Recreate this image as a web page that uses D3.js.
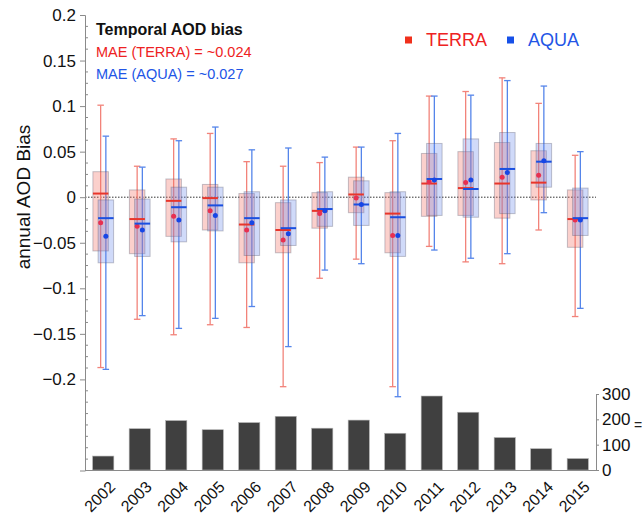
<!DOCTYPE html>
<html><head><meta charset="utf-8">
<script src="https://cdn.jsdelivr.net/npm/d3@7/dist/d3.min.js"></script>
<style>body{margin:0;background:#fff}svg{display:block}text{font-family:"Liberation Sans",Arial,sans-serif}</style>
</head><body><svg id="c" width="644" height="514"></svg>
<script>
const years = ["2002","2003","2004","2005","2006","2007","2008","2009","2010","2011","2012","2013","2014","2015"];
const counts = [55,163,195,159,187,212,165,197,145,292,228,128,84,45];
// TERRA box statistics
const terraMin  = [-0.187,-0.134,-0.151,-0.140,-0.143,-0.208,-0.089,-0.068,-0.208,-0.054,-0.071,-0.073,-0.036,-0.131];
const terraQ1   = [-0.059,-0.062,-0.043,-0.036,-0.072,-0.061,-0.034,-0.017,-0.061,-0.021,-0.020,-0.023,-0.003,-0.055];
const terraMed  = [ 0.004,-0.024,-0.004,-0.001,-0.030,-0.036,-0.015, 0.003,-0.018, 0.015, 0.010, 0.015, 0.016,-0.024];
const terraQ3   = [ 0.028, 0.008, 0.020, 0.014, 0.004,-0.006, 0.005, 0.022, 0.005, 0.048, 0.050, 0.060, 0.051, 0.008];
const terraMax  = [ 0.101, 0.034, 0.064, 0.070, 0.039, 0.034, 0.038, 0.055, 0.062, 0.111, 0.116, 0.131, 0.103, 0.046];
const terraMean = [-0.028,-0.032,-0.021,-0.015,-0.036,-0.047,-0.018,-0.001,-0.042, 0.017, 0.016, 0.022, 0.024,-0.025];
// AQUA box statistics
const aquaMin  = [-0.189,-0.130,-0.144,-0.133,-0.120,-0.164,-0.080,-0.073,-0.219,-0.058,-0.067,-0.062,-0.017,-0.122];
const aquaQ1   = [-0.072,-0.065,-0.049,-0.037,-0.064,-0.053,-0.032,-0.031,-0.065,-0.020,-0.022,-0.018, 0.011,-0.042];
const aquaMed  = [-0.023,-0.029,-0.011,-0.009,-0.023,-0.034,-0.013,-0.008,-0.022, 0.020, 0.009, 0.031, 0.039,-0.023];
const aquaQ3   = [-0.003,-0.002, 0.011, 0.011, 0.006,-0.003, 0.006, 0.018, 0.006, 0.059, 0.064, 0.071, 0.059, 0.010];
const aquaMax  = [ 0.067, 0.033, 0.062, 0.077, 0.052, 0.054, 0.044, 0.055, 0.070, 0.111, 0.112, 0.128, 0.122, 0.050];
const aquaMean = [-0.043,-0.036,-0.025,-0.020,-0.028,-0.040,-0.015,-0.008,-0.042, 0.019, 0.019, 0.027, 0.040,-0.025];
const biasTicks = [0.2,0.15,0.1,0.05,0,-0.05,-0.1,-0.15,-0.2];
const countTicks = [0,100,200,300];

const svg = d3.select("#c");
const x = d3.scaleBand().domain(years).range([85,596]).paddingInner(0.42).paddingOuter(0.21);
const y = d3.scaleLinear().domain([-0.3,0.2]).range([470.5,15]);
const yc = d3.scaleLinear().domain([0,300]).range([470,394]);
const axisCol = "#8a8a8a";

// histogram bars
svg.append("g").selectAll("rect").data(years).join("rect")
  .attr("x", d=>x(d)).attr("width", x.bandwidth())
  .attr("y", (d,i)=>yc(counts[i])).attr("height",(d,i)=>yc(0)-yc(counts[i]))
  .attr("fill","#404040").attr("stroke","#b0b0b0").attr("stroke-width",0.6);

// zero line
svg.append("line").attr("x1",85).attr("x2",596).attr("y1",y(0)).attr("y2",y(0))
  .attr("stroke","#333").attr("stroke-width",1).attr("stroke-dasharray","1.5,1.5");

// left axis
const gl = svg.append("g").attr("transform","translate(85,0)");
gl.call(d3.axisLeft(y).tickValues(biasTicks).tickSize(5).tickPadding(4).tickFormat(d=>d===0?"0":d3.format("")(+d.toFixed(2))));
gl.select(".domain").attr("stroke",axisCol);
gl.selectAll(".tick line").attr("stroke",axisCol);
gl.selectAll(".tick text").attr("font-size",17).attr("fill","#111").attr("font-family","Liberation Sans, Arial, sans-serif");
const minor = d3.range(0,41).map(i=>+(0.2-i*0.0125).toFixed(4)).filter(v=>Math.abs(Math.round(v*20)-v*20)>1e-6);
gl.selectAll(".mt").data(minor).join("line").attr("x1",0).attr("x2",3).attr("y1",d=>y(d)).attr("y2",d=>y(d)).attr("stroke",axisCol);
gl.selectAll(".mt2").data([-0.25,-0.3]).join("line").attr("x1",0).attr("x2",3).attr("y1",d=>y(d)).attr("y2",d=>y(d)).attr("stroke",axisCol);

// right count axis
const gr = svg.append("g").attr("transform","translate(596,0)");
gr.call(d3.axisRight(yc).tickValues(countTicks).tickSize(3).tickPadding(3));
gr.select(".domain").attr("stroke",axisCol);
gr.selectAll(".tick line").attr("stroke",axisCol);
gr.selectAll(".tick text").attr("font-size",17).attr("fill","#111").attr("font-family","Liberation Sans, Arial, sans-serif");
svg.append("text").attr("x",634).attr("y",430).attr("font-size",14).attr("fill","#222").text("=");

// bottom axis line
svg.append("line").attr("x1",85).attr("x2",596).attr("y1",470.5).attr("y2",470.5).attr("stroke",axisCol).attr("stroke-width",1.2);

// year labels
svg.append("g").selectAll("text").data(years).join("text")
  .attr("transform",d=>`translate(${x(d)+x.bandwidth()/2+5},480) rotate(-45)`)
  .attr("text-anchor","end").attr("dy","0.7em").attr("font-size",16).attr("fill","#111").text(d=>d);

// box plots
const series = [
  {name:"TERRA", off:-2.6, mn:terraMin, q1:terraQ1, md:terraMed, q3:terraQ3, mx:terraMax, me:terraMean,
   fill:"rgba(244,110,95,0.32)", wh:"#f2837a", med:"#e8352b", dot:"#e83050"},
  {name:"AQUA", off:2.6, mn:aquaMin, q1:aquaQ1, md:aquaMed, q3:aquaQ3, mx:aquaMax, me:aquaMean,
   fill:"rgba(110,140,235,0.32)", wh:"#5585ea", med:"#1a4fe0", dot:"#1646e6"}
];
const bw = 15.5, cap = 6.5;
const cx = d => x(d)+x.bandwidth()/2;
series.forEach(s=>{
  const g = svg.append("g");
  g.selectAll(".w").data(years).join("line").attr("x1",(d)=>cx(d)+s.off).attr("x2",d=>cx(d)+s.off)
    .attr("y1",(d,i)=>y(s.mx[i])).attr("y2",(d,i)=>y(s.mn[i])).attr("stroke",s.wh).attr("stroke-width",1.3);
  g.selectAll(".ct").data(years).join("line").attr("x1",d=>cx(d)+s.off-cap/2).attr("x2",d=>cx(d)+s.off+cap/2)
    .attr("y1",(d,i)=>y(s.mx[i])).attr("y2",(d,i)=>y(s.mx[i])).attr("stroke",s.wh).attr("stroke-width",1.3);
  g.selectAll(".cb").data(years).join("line").attr("x1",d=>cx(d)+s.off-cap/2).attr("x2",d=>cx(d)+s.off+cap/2)
    .attr("y1",(d,i)=>y(s.mn[i])).attr("y2",(d,i)=>y(s.mn[i])).attr("stroke",s.wh).attr("stroke-width",1.3);
});
series.forEach(s=>{
  svg.append("g").selectAll("rect").data(years).join("rect")
    .attr("x",d=>cx(d)+s.off-bw/2).attr("width",bw)
    .attr("y",(d,i)=>y(s.q3[i])).attr("height",(d,i)=>y(s.q1[i])-y(s.q3[i]))
    .attr("fill",s.fill).attr("stroke","rgba(90,90,110,0.35)").attr("stroke-width",1);
});
series.forEach(s=>{
  const g = svg.append("g");
  g.selectAll("line").data(years).join("line").attr("x1",d=>cx(d)+s.off-bw/2).attr("x2",d=>cx(d)+s.off+bw/2)
    .attr("y1",(d,i)=>y(s.md[i])).attr("y2",(d,i)=>y(s.md[i])).attr("stroke",s.med).attr("stroke-width",2);
  g.selectAll("circle").data(years).join("circle").attr("cx",d=>cx(d)+s.off).attr("cy",(d,i)=>y(s.me[i]))
    .attr("r",2.5).attr("fill",s.dot);
});

// titles
svg.append("text").attr("transform","translate(30,197) rotate(-90)").attr("text-anchor","middle")
  .attr("font-size",19).attr("fill","#111").text("annual AOD Bias");
svg.append("text").attr("x",96).attr("y",35).attr("font-size",16).attr("font-weight","bold").attr("fill","#111").text("Temporal AOD bias");
svg.append("text").attr("x",96).attr("y",57).attr("font-size",14.5).attr("fill","#ee2222").text("MAE (TERRA) = ~0.024");
svg.append("text").attr("x",96).attr("y",79).attr("font-size",14.5).attr("fill","#2255e6").text("MAE (AQUA) = ~0.027");
// legend
const leg = [{t:"TERRA",c:"#f0301c",tc:"#ee2222",x:405},{t:"AQUA",c:"#1650e8",tc:"#2255e6",x:507}];
leg.forEach(l=>{
  svg.append("rect").attr("x",l.x).attr("y",36.5).attr("width",7).attr("height",7).attr("fill",l.c);
  svg.append("text").attr("x",l.x+21).attr("y",46).attr("font-size",18).attr("fill",l.tc).text(l.t);
});
</script></body></html>
